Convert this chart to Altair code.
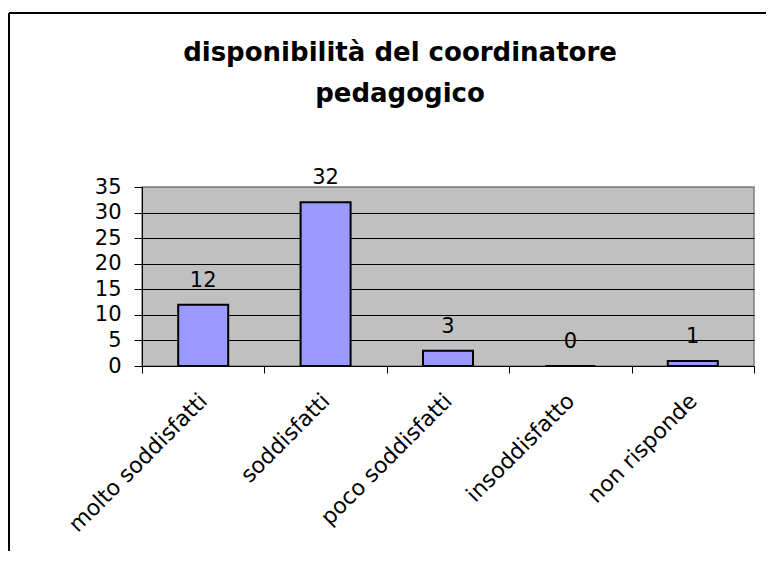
import altair as alt
import pandas as pd

categories = ["molto soddisfatti", "soddisfatti", "poco soddisfatti", "insoddisfatto", "non risponde"]
values = [12, 32, 3, 0, 1]
title_lines = ["disponibilità del coordinatore", "pedagogico"]
y_ticks = [0, 5, 10, 15, 20, 25, 30, 35]

df = pd.DataFrame({"cat": categories, "val": values})
FONT = "DejaVu Sans"

x_enc = alt.X("cat:N", sort=categories, title=None,
              scale=alt.Scale(paddingInner=0, paddingOuter=0),
              axis=alt.Axis(labelAngle=-45, labelAlign="right", labelBaseline="middle",
                            labelFont=FONT, labelFontSize=22, labelColor="black",
                            labelPadding=24, tickBand="extent", tickSize=7,
                            tickColor="black", domainColor="black", grid=False,
                            labelLimit=400, labelOverlap=False))
y_enc = alt.Y("val:Q", title=None,
              scale=alt.Scale(domain=[0, 35], nice=False),
              axis=alt.Axis(values=y_ticks, labelFont=FONT, labelFontSize=21,
                            labelColor="black", labelPadding=13, tickSize=8,
                            tickColor="black", domainColor="black", grid=True,
                            labelOverlap=False, labelFlush=False,
                            gridColor={"condition": {"test": "datum.value >= 35", "value": "#808080"},
                                       "value": "black"},
                            gridOpacity=1, gridWidth=1))

bars = alt.Chart(df).mark_bar(size=50, color="#9999FF", stroke="black", strokeWidth=2).encode(
    x=x_enc, y=y_enc)

labels = alt.Chart(df).mark_text(font=FONT, fontSize=21, color="black",
                                 baseline="alphabetic", dy=-18).encode(
    x=x_enc, y=y_enc, text="val:Q")

frame_df = pd.DataFrame({"k": [0]})
frame_left = alt.Chart(frame_df).mark_rule(color="black", strokeWidth=2).encode(
    x=alt.value(-133), y=alt.value(-174), y2=alt.value(400))
frame_top = alt.Chart(frame_df).mark_rule(color="black", strokeWidth=2).encode(
    x=alt.value(-133), x2=alt.value(700), y=alt.value(-174))

chart = alt.layer(bars, labels, frame_left, frame_top).properties(
    width=612, height=179,
    title=alt.Title(title_lines, font=FONT, fontSize=26, fontWeight="bold", color="black",
                    lineHeight=41, anchor="middle", dx=-48, offset=-116, baseline="alphabetic",
                    frame="group"),
    autosize=alt.AutoSizeParams(type="none"),
    padding={"left": 134, "top": 179, "right": 12, "bottom": 185},
).configure_view(fill="#C0C0C0", stroke="#808080", strokeWidth=1.5)

chart.save("out.html", embed_options={"renderer": "svg", "actions": False})
